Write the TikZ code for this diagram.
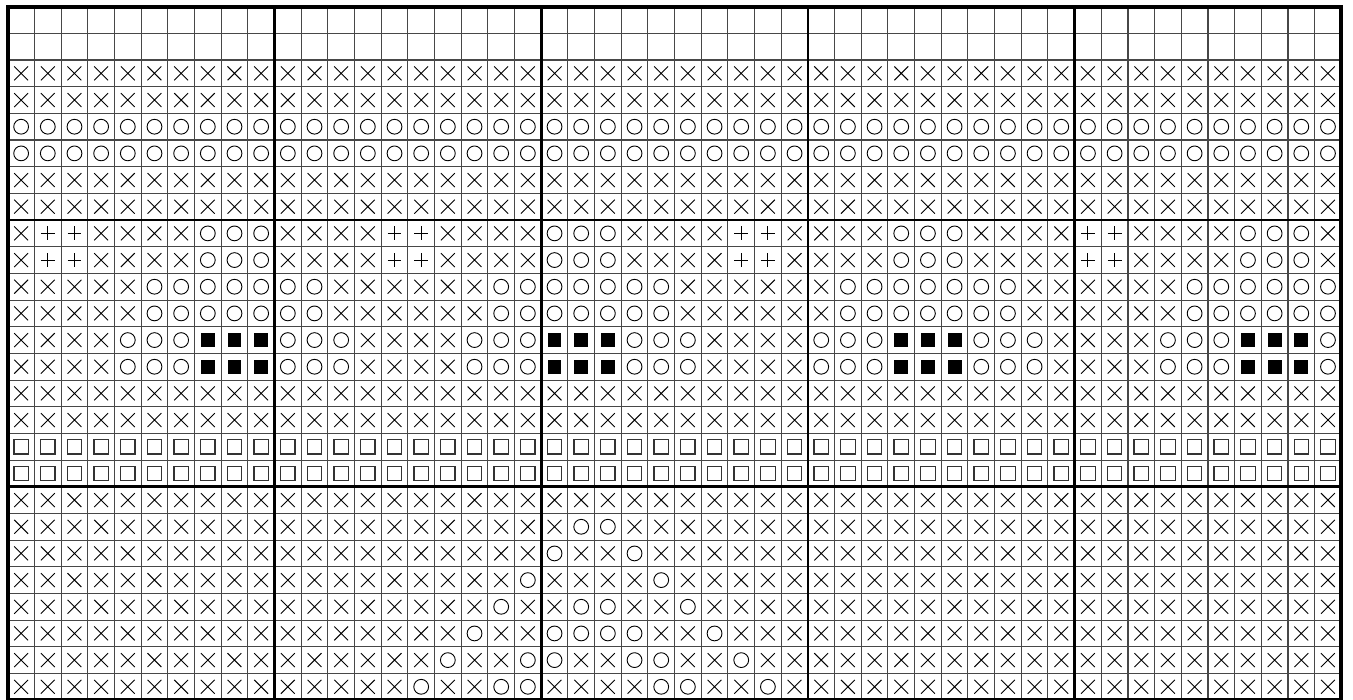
\documentclass[tikz,border=0pt]{standalone}
\newcount\colc
\tikzset{
  symline/.style={line width=0.9pt, black},
  sqline/.style={line width=1.2pt, black!80},
  gridline/.style={line width=1.1pt, black!72},
  blockline/.style={line width=2.8pt, black},
  borderline/.style={line width=4pt, black}
}
\def\Bl{bbbbbbbbbb}
\def\Xt{xxxxxxxxxx}
\def\Ot{oooooooooo}
\def\St{ssssssssss}
\def\symb#1{%
  \edef\colx{\the\colc}%
  \ifx#1x\draw[symline] (\colx+0.24,\rw+0.24) -- (\colx+0.76,\rw+0.76) (\colx+0.24,\rw+0.76) -- (\colx+0.76,\rw+0.24);\fi
  \ifx#1o\draw[symline] (\colx+0.5,\rw+0.5) circle[radius=7.4pt];\fi
  \ifx#1p\draw[symline] (\colx+0.24,\rw+0.5) -- (\colx+0.76,\rw+0.5) (\colx+0.5,\rw+0.24) -- (\colx+0.5,\rw+0.76);\fi
  \ifx#1f\fill[black] (\colx+0.24,\rw+0.24) rectangle (\colx+0.76,\rw+0.76);\fi
  \ifx#1s\draw[sqline] (\colx+0.23,\rw+0.23) rectangle (\colx+0.77,\rw+0.77);\fi
}
\def\parsechars#1{\ifx#1\relax\else\symb{#1}\global\advance\colc by 1\relax\expandafter\parsechars\fi}
\begin{document}
\begin{tikzpicture}[x=1pt,y=-1pt]
\useasboundingbox (0,0) rectangle (1353,700);
\fill[white] (0,0) rectangle (1353,700);
\begin{scope}[shift={(7.8,6.7)}, x=26.67pt, y=-26.67pt]
  % grid
  \foreach \i in {1,...,49} \draw[gridline] (\i,0) -- (\i,26);
  \foreach \j in {1,...,25} \draw[gridline] (0,\j) -- (50,\j);
  % symbols
  \foreach \rw/\rs in {
    0/\Bl\Bl\Bl\Bl\Bl,
    1/\Bl\Bl\Bl\Bl\Bl,
    2/\Xt\Xt\Xt\Xt\Xt,
    3/\Xt\Xt\Xt\Xt\Xt,
    4/\Ot\Ot\Ot\Ot\Ot,
    5/\Ot\Ot\Ot\Ot\Ot,
    6/\Xt\Xt\Xt\Xt\Xt,
    7/\Xt\Xt\Xt\Xt\Xt,
    8/xppxxxxooo xxxxppxxxx oooxxxxppx xxxoooxxxx ppxxxxooox,
    9/xppxxxxooo xxxxppxxxx oooxxxxppx xxxoooxxxx ppxxxxooox,
    10/xxxxxooooo ooxxxxxxoo oooooxxxxx xoooooooxx xxxxoooooo,
    11/xxxxxooooo ooxxxxxxoo oooooxxxxx xoooooooxx xxxxoooooo,
    12/xxxxooofff oooxxxxooo fffoooxxxx ooofffooox xxxooofffo,
    13/xxxxooofff oooxxxxooo fffoooxxxx ooofffooox xxxooofffo,
    14/\Xt\Xt\Xt\Xt\Xt,
    15/\Xt\Xt\Xt\Xt\Xt,
    16/\St\St\St\St\St,
    17/\St\St\St\St\St,
    18/\Xt\Xt\Xt\Xt\Xt,
    19/\Xt\Xt xooxxxxxxx\Xt\Xt,
    20/\Xt\Xt oxxoxxxxxx\Xt\Xt,
    21/\Xt xxxxxxxxxo xxxxoxxxxx\Xt\Xt,
    22/\Xt xxxxxxxxox xooxxoxxxx\Xt\Xt,
    23/\Xt xxxxxxxoxx ooooxxoxxx\Xt\Xt,
    24/\Xt xxxxxxoxxo oxxooxxoxx\Xt\Xt,
    25/\Xt xxxxxoxxoo xxxxooxxox\Xt\Xt
  }{
    \global\colc=0\relax
    \edef\tmprow{\rs}%
    \expandafter\parsechars\tmprow\relax
  }
  % block lines
  \foreach \i in {10,20,30,40} \draw[blockline] (\i,0) -- (\i,26);
  \foreach \j in {8,18} \draw[blockline] (0,\j) -- (50,\j);
  \draw[borderline] (0,0) rectangle (50,26);
\end{scope}
\end{tikzpicture}
\end{document}
